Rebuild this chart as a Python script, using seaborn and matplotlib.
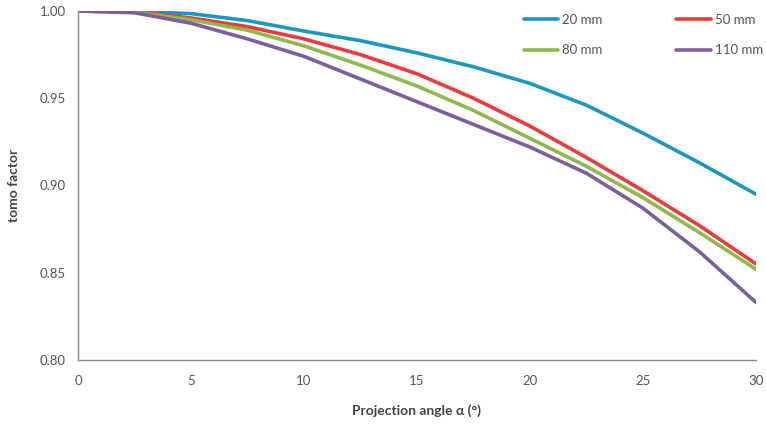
import numpy as np
import pandas as pd
import matplotlib
matplotlib.use("Agg")
import matplotlib.pyplot as plt
import seaborn as sns

angles = [0, 2.5, 5, 7.5, 10, 12.5, 15, 17.5, 20, 22.5, 25, 27.5, 30]
series_names = ["20 mm", "50 mm", "80 mm", "110 mm"]
v20 = [1.000, 0.9998, 0.9985, 0.9945, 0.9885, 0.983, 0.976, 0.968, 0.9585, 0.946, 0.930, 0.913, 0.895]
v50 = [1.000, 0.9995, 0.996, 0.991, 0.984, 0.975, 0.964, 0.950, 0.934, 0.916, 0.897, 0.877, 0.855]
v80 = [1.000, 0.9993, 0.995, 0.989, 0.980, 0.969, 0.957, 0.943, 0.927, 0.911, 0.893, 0.873, 0.852]
v110 = [1.000, 0.999, 0.993, 0.984, 0.974, 0.961, 0.948, 0.935, 0.922, 0.907, 0.887, 0.862, 0.833]
x_ticks = [0, 5, 10, 15, 20, 25, 30]
y_ticks = [0.80, 0.85, 0.90, 0.95, 1.00]

colors = ["#1B98C0", "#EE3A3A", "#8CBB4B", "#7D5FA0"]

rows = []
for name, vals in zip(series_names, [v20, v50, v80, v110]):
    for a, v in zip(angles, vals):
        rows.append({"angle": a, "factor": v, "series": name})
df = pd.DataFrame(rows)

sns.set_style("white")
plt.rcParams["font.family"] = ["Lato", "DejaVu Sans"]

fig = plt.figure(figsize=(7.66, 4.29), dpi=100)
ax = fig.add_axes([78/766, 1-360/429, (756-78)/766, (360-11)/429])

sns.lineplot(data=df, x="angle", y="factor", hue="series", hue_order=series_names,
             palette=colors, linewidth=2.6, ax=ax, legend=True)

ax.set_xlim(0, 30)
ax.set_ylim(0.80, 1.00)
ax.set_xticks(x_ticks)
ax.set_yticks(y_ticks)
ax.set_yticklabels([f"{t:.2f}" for t in y_ticks])
ax.set_xticklabels([str(t) for t in x_ticks])

for s in ["top", "right"]:
    ax.spines[s].set_visible(False)
for s in ["left", "bottom"]:
    ax.spines[s].set_color("#8a8a8a")
    ax.spines[s].set_linewidth(1.0)

ax.tick_params(axis="y", direction="out", length=3, color="#aaaaaa", labelsize=9.5,
               labelcolor="#555555", pad=6)
ax.tick_params(axis="x", direction="in", length=3, color="#cccccc", labelsize=9.5,
               labelcolor="#555555", pad=11)

ax.set_xlabel("Projection angle α (°)", fontsize=10, fontweight="bold", color="#444444", labelpad=12)
ax.set_ylabel("tomo factor", fontsize=10, fontweight="bold", color="#444444", labelpad=14)

handles, labels = ax.get_legend_handles_labels()
order = [0, 2, 1, 3]
leg = ax.legend([handles[i] for i in order], [labels[i] for i in order], ncol=2,
                frameon=False, loc="upper left",
                bbox_to_anchor=(512/766, 1-2/429), bbox_transform=fig.transFigure,
                fontsize=9.5, labelcolor="#555555", handlelength=2.6, handletextpad=0.3,
                columnspacing=5.6, labelspacing=1.4)
for line in leg.get_lines():
    line.set_linewidth(2.6)

fig.savefig("out.png", dpi=100)
